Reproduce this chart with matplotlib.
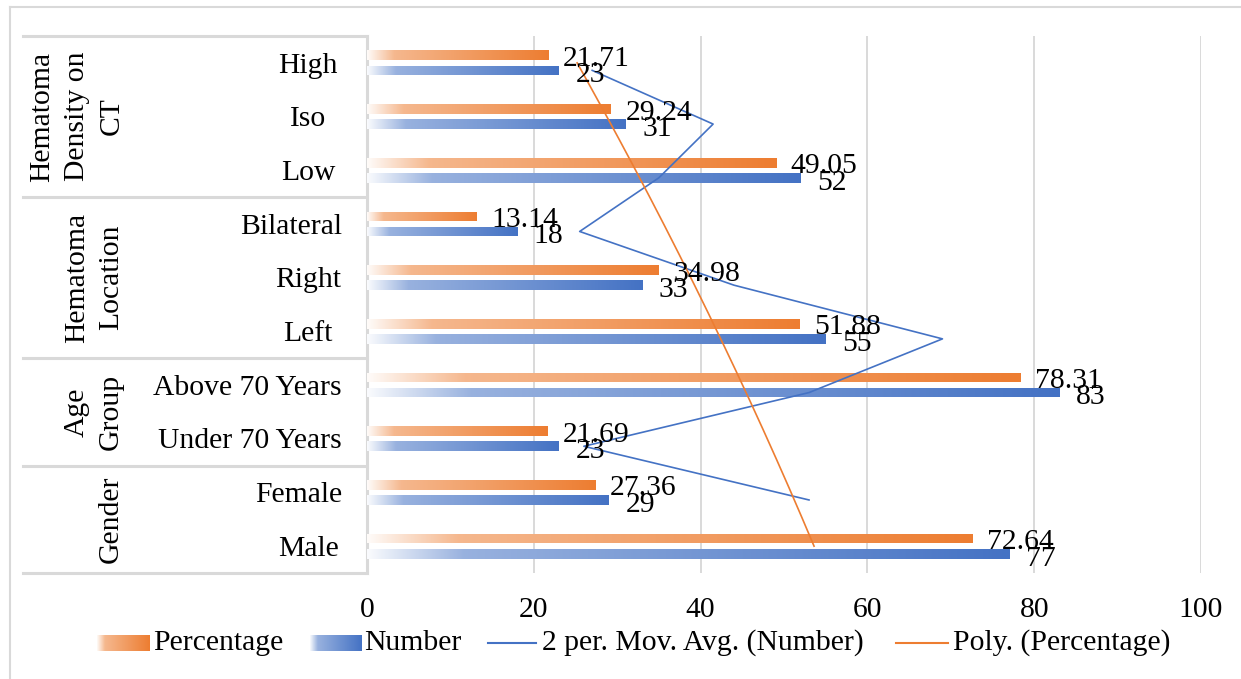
import numpy as np
import matplotlib
matplotlib.use("Agg")
import matplotlib.pyplot as plt
import matplotlib.transforms as mtransforms
from matplotlib.colors import to_rgb

# ---- data (bottom -> top) ----
categories = ["Male", "Female", "Under 70 Years", "Above 70 Years",
              "Left", "Right", "Bilateral", "Low", "Iso", "High"]
group_labels = ["Gender", "Age\nGroup", "Hematoma\nLocation", "Hematoma\nDensity on\nCT"]
group_sizes = [2, 2, 3, 3]
percentage = [72.64, 27.36, 21.69, 78.31, 51.88, 34.98, 13.14, 49.05, 29.24, 21.71]
number = [77, 29, 23, 83, 55, 33, 18, 52, 31, 23]
x_ticks = [0, 20, 40, 60, 80, 100]
legend_labels = ["Percentage", "Number", "2 per. Mov. Avg. (Number)", "Poly. (Percentage)"]

ORANGE = "#ED7D31"
BLUE = "#4472C4"
GRID = "#D9D9D9"
W, H = 1241, 679
FS = 21.3

plt.rcParams["font.family"] = ["Liberation Serif", "DejaVu Serif"]
plt.rcParams["font.size"] = FS


def gradient_img(color, n=256):
    # white -> colour, quick tint at the start like the Office gradient fill
    t = np.linspace(0, 1, n)
    w = np.interp(t, [0, 0.15, 1], [0.03, 0.55, 1.0])
    c = np.array(to_rgb(color))
    rgb = (1 - w)[:, None] * 1.0 + w[:, None] * c[None, :]
    return rgb[None, :, :]


fig = plt.figure(figsize=(W / 100, H / 100), dpi=100)
ax = fig.add_axes([367 / W, 1 - 573 / H, (1201 - 367) / W, (573 - 36) / H])

y = np.arange(len(categories))
bh, off = 0.18, 0.14

bars_p = ax.barh(y + off, percentage, height=bh, color="none", lw=0, zorder=2)
bars_n = ax.barh(y - off, number, height=bh, color="none", lw=0, zorder=2)

for bars, col in [(bars_p, ORANGE), (bars_n, BLUE)]:
    for b in bars:
        x0, y0 = b.get_x(), b.get_y()
        im = ax.imshow(gradient_img(col), extent=[x0, x0 + b.get_width(), y0, y0 + b.get_height()],
                       aspect="auto", interpolation="bilinear", zorder=2)
        im.set_clip_path(b)

# data labels
for yi, v in zip(y, percentage):
    ax.annotate(f"{v:.2f}", (v, yi + off), xytext=(10.5, -2.5), textcoords="offset points",
                va="center", ha="left", fontsize=FS, zorder=5)
for yi, v in zip(y, number):
    ax.annotate(f"{v}", (v, yi - off), xytext=(12, -3.5), textcoords="offset points",
                va="center", ha="left", fontsize=FS, zorder=5)

# trendlines
ma = [(number[i - 1] + number[i]) / 2 for i in range(1, len(number))]
ax.plot(ma, y[1:] - off, color=BLUE, lw=1.2, zorder=4)

xs = np.arange(1, len(percentage) + 1)
coef = np.polyfit(xs, percentage, 2)
xf = np.linspace(1, len(percentage), 200)
ax.plot(np.polyval(coef, xf), xf - 1, color=ORANGE, lw=1.2, zorder=4)

ax.set_xlim(0, 100)
ax.set_ylim(-0.5, len(categories) - 0.5)
ax.set_xticks(x_ticks)
ax.set_xticklabels([str(t) for t in x_ticks])
ax.tick_params(axis="x", length=0, pad=17)
ax.set_yticks([])
ax.xaxis.grid(True, color=GRID, lw=1.4, zorder=0)
ax.set_axisbelow(True)
for s in ["top", "right", "bottom"]:
    ax.spines[s].set_visible(False)
ax.spines["left"].set_color(GRID)
ax.spines["left"].set_linewidth(2.2)
ax.spines["left"].set_zorder(1)

# multi-level category axis
tr = mtransforms.blended_transform_factory(fig.transFigure, ax.transData)
renderer = fig.canvas.get_renderer()
for yi, lab in zip(y, categories):
    t = ax.text(308 / W, yi - 0.05, lab, transform=tr, ha="center", va="center", fontsize=FS)
    bb = t.get_window_extent(renderer)
    if 308 + bb.width / 2 > 342:
        t.set_x(342 / W)
        t.set_ha("right")

bounds = np.concatenate([[0], np.cumsum(group_sizes)]) - 0.5
for b in bounds:
    ax.plot([23 / W, 367 / W], [b, b], transform=tr, color=GRID, lw=2.2, clip_on=False)

for i, (lab, n) in enumerate(zip(group_labels, group_sizes)):
    yc = (bounds[i] + bounds[i + 1]) / 2
    nl = lab.count("\n") + 1
    xc = 111 - (nl - 1) * 34 / 2
    ax.text(xc / W, yc, lab, transform=tr, rotation=90, ha="center", va="center",
            multialignment="center", linespacing=1.42, fontsize=FS)

# overlay: border + legend
ov = fig.add_axes([0, 0, 1, 1])
ov.set_xlim(0, W)
ov.set_ylim(H, 0)
ov.axis("off")
ov.patch.set_alpha(0)
ov.plot([10, W], [7, 7], color=GRID, lw=1.5)
ov.plot([10, 10], [7, H], color=GRID, lw=1.5)

ly = 643
ov.imshow(gradient_img(ORANGE), extent=[97, 150, ly + 8, ly - 8], aspect="auto", interpolation="bilinear")
ov.text(153, ly, legend_labels[0], va="center", ha="left", fontsize=FS)
ov.imshow(gradient_img(BLUE), extent=[310, 362, ly + 8, ly - 8], aspect="auto", interpolation="bilinear")
ov.text(364, ly, legend_labels[1], va="center", ha="left", fontsize=FS)
ov.plot([488, 536], [ly, ly], color=BLUE, lw=1.5)
ov.text(542, ly, legend_labels[2], va="center", ha="left", fontsize=FS)
ov.plot([896, 948], [ly, ly], color=ORANGE, lw=1.5)
ov.text(953, ly, legend_labels[3], va="center", ha="left", fontsize=FS)
ov.set_xlim(0, W)
ov.set_ylim(H, 0)

fig.savefig("out.png", dpi=100)
